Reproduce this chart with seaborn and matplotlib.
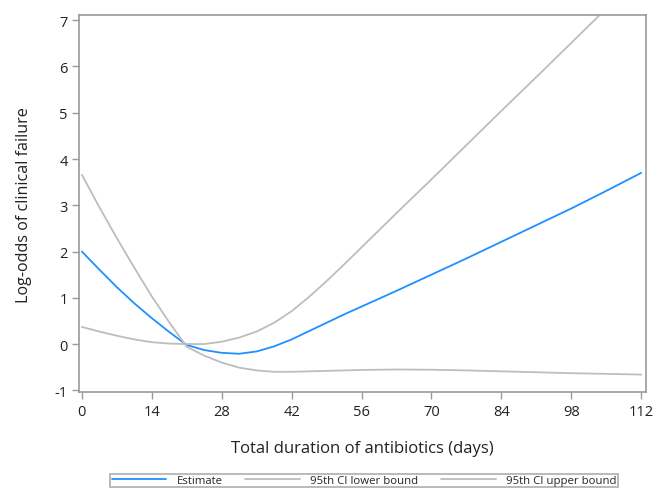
import pandas as pd
import matplotlib.pyplot as plt
import seaborn as sns

# values
days = [0, 3.5, 7, 10.5, 14, 17.5, 21, 24.5, 28, 31.5, 35, 38.5, 42, 45.5,
        49, 52.5, 56, 63, 70, 77, 84, 91, 98, 105, 112]
estimate = [2.00, 1.61, 1.23, 0.88, 0.56, 0.26, -0.02, -0.13, -0.19, -0.21,
            -0.16, -0.05, 0.10, 0.28, 0.46, 0.64, 0.81, 1.15, 1.50, 1.85,
            2.21, 2.57, 2.93, 3.31, 3.70]
ci_lower = [0.37, 0.27, 0.18, 0.10, 0.04, 0.01, 0.00, 0.00, 0.05, 0.14,
            0.27, 0.46, 0.71, 1.02, 1.36, 1.72, 2.09, 2.83, 3.56, 4.30,
            5.04, 5.77, 6.51, 7.25, 7.98]
ci_upper = [3.66, 2.96, 2.29, 1.65, 1.03, 0.47, -0.06, -0.25, -0.40, -0.51,
            -0.57, -0.60, -0.60, -0.59, -0.58, -0.57, -0.56, -0.55, -0.555,
            -0.57, -0.59, -0.61, -0.63, -0.645, -0.66]
x_ticks = [0, 14, 28, 42, 56, 70, 84, 98, 112]
y_ticks = [-1, 0, 1, 2, 3, 4, 5, 6, 7]

df = pd.DataFrame({"days": days, "Estimate": estimate,
                   "95th CI lower bound": ci_lower,
                   "95th CI upper bound": ci_upper})

sns.set_style("white")
plt.rcParams["font.family"] = ["Open Sans", "DejaVu Sans"]
plt.rcParams["axes.unicode_minus"] = False

fig = plt.figure(figsize=(6.56, 4.89), dpi=100)
ax = fig.add_axes([0.121, 0.196, 0.864, 0.771])

sns.lineplot(data=df, x="days", y="Estimate", color="#1E90FF", lw=1.3,
             label="Estimate", ax=ax)
sns.lineplot(data=df, x="days", y="95th CI lower bound", color="#BDBDBD",
             lw=1.3, label="95th CI lower bound", ax=ax)
sns.lineplot(data=df, x="days", y="95th CI upper bound", color="#BDBDBD",
             lw=1.3, label="95th CI upper bound", ax=ax)

ax.set_xlim(-0.5, 113)
ax.set_ylim(-1.04, 7.11)
ax.set_xticks(x_ticks)
ax.set_yticks(y_ticks)
ax.tick_params(axis="both", direction="out", length=5, width=1,
               color="#9a9a9a", labelsize=10.5, labelcolor="#222222",
               left=True, bottom=True)
for s in ax.spines.values():
    s.set_color("#9a9a9a")
    s.set_linewidth(1.2)
ax.set_xlabel("Total duration of antibiotics (days)", fontsize=12,
              color="#222222", labelpad=15)
ax.set_ylabel("Log-odds of clinical failure", fontsize=11.6, color="#222222",
              labelpad=16)

handles, labels = ax.get_legend_handles_labels()
ax.get_legend().remove()
leg = fig.legend(handles, labels, loc="upper center",
                 bbox_to_anchor=(0.555, 1 - 469 / 489), ncol=3, fontsize=8.2,
                 frameon=True, fancybox=False, edgecolor="#9a9a9a",
                 handlelength=4.8, columnspacing=2.0, borderpad=0.1,
                 handletextpad=0.9)
leg.get_frame().set_linewidth(1.2)

fig.savefig("out.png", dpi=100)
